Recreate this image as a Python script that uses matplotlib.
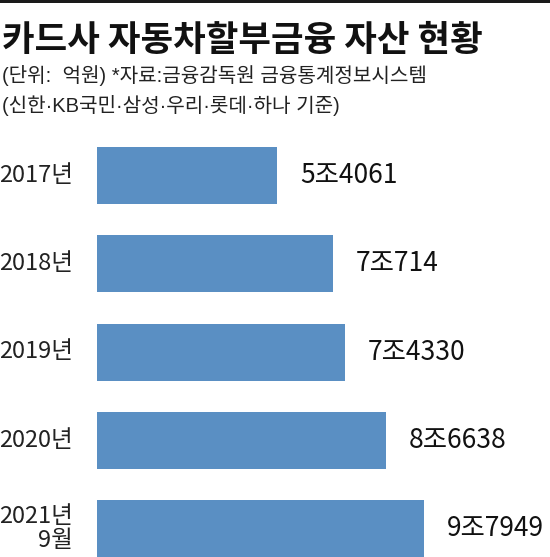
import matplotlib
matplotlib.use("Agg")
import matplotlib.pyplot as plt
from matplotlib.patches import Rectangle
import matplotlib.transforms as mtransforms

plt.rcParams['font.family'] = ['Noto Sans CJK KR', 'DejaVu Sans']

# ---- data ----
categories = ["2017년", "2018년", "2019년", "2020년", "2021년\n9월"]
values = [54061, 70714, 74330, 86638, 97949]  # 억원
title = "카드사 자동차할부금융 자산 현황"
subtitle1 = "(단위:  억원) *자료:금융감독원 금융통계정보시스템"
subtitle2 = "(신한·KB국민·삼성·우리·롯데·하나 기준)"

def fmt(v):
    jo, eok = divmod(v, 10000)
    return f"{jo}조{eok}"

ARIAL = ['Liberation Sans', 'Noto Sans CJK KR', 'DejaVu Sans']
CJK = ['Noto Sans CJK KR', 'DejaVu Sans']

W, H = 550, 557
fig = plt.figure(figsize=(W / 100, H / 100), dpi=100)

# top rule
fig.add_artist(Rectangle((0, 1 - 3 / H), 1, 3 / H, transform=fig.transFigure,
                         color="#1a1a1a", lw=0))

fig.text(2 / W, 1 - 40 / H, title, fontsize=25.5, fontweight="heavy",
         ha="left", va="center", color="#111111")
fig.text(2 / W, 1 - 76 / H, subtitle1, fontsize=14.5, ha="left", va="center",
         color="#222222", family=ARIAL)
fig.text(2 / W, 1 - 106 / H, subtitle2, fontsize=14.5, ha="left", va="center",
         color="#222222", family=ARIAL)

# bar axes
left_px, top_px = 97, 130
ax = fig.add_axes([left_px / W, 0, 1 - left_px / W, 1 - top_px / H])
px_per_unit = 0.003338
ax.set_xlim(0, (W - left_px) / px_per_unit)
spacing = 88.25
ax.set_ylim((H - 175.5) / spacing, -(175.5 - top_px) / spacing)
ax.axis("off")

ypos = list(range(len(values)))
ax.barh(ypos, values, height=57 / spacing, color="#5a8fc3", edgecolor="none")

for y, v in zip(ypos, values):
    ax.annotate(fmt(v), xy=(v, y), xytext=(23, 0), textcoords="offset pixels",
                ha="left", va="center", fontsize=19, color="#111111",
                family=CJK)

trans = mtransforms.blended_transform_factory(fig.transFigure, ax.transData)
for y, c in zip(ypos, categories):
    fig.text(73 / W, y, c, transform=trans, ha="right", va="center",
             multialignment="right", fontsize=17, color="#222222",
             linespacing=1.05, family=CJK)

fig.savefig("out.png", dpi=100, facecolor="white")
